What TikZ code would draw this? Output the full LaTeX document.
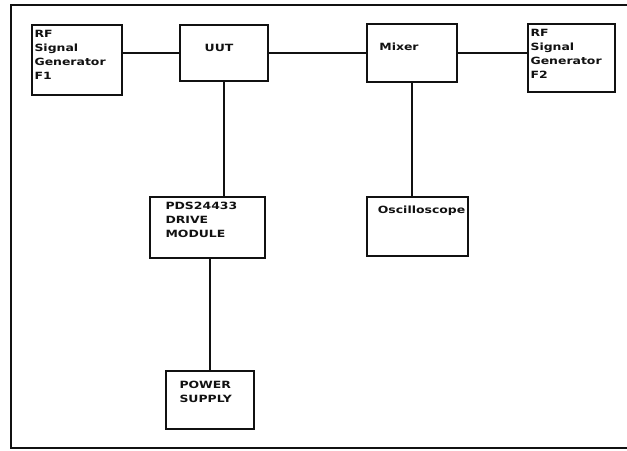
\documentclass[tikz,border=0pt]{standalone}
\usepackage{fontspec}
\usepackage{tikz}
\usetikzlibrary{positioning}
\newfontfamily\scanfont[FakeStretch=1.25]{DejaVu Sans Bold}
\definecolor{inkBlack}{HTML}{111111}

\begin{document}
\begin{tikzpicture}[x=0.03cm, y=-0.03cm,
  unit/.style={draw=inkBlack, line width=1.2pt, inner sep=0pt},
  lbl/.style={font=\scanfont\fontsize{8.5}{11.9}\selectfont, text=inkBlack,
              align=left, inner sep=0pt, anchor=north west},
  wire/.style={draw=inkBlack, line width=0.9pt}
]
\useasboundingbox (0,0) rectangle (627,450);
% outer frame
\draw[inkBlack, line width=1.6pt] (628,5) -| (11,448) -- (628,448);

% boxes
\node[unit, minimum width=90*0.03cm, minimum height=70*0.03cm] (genA) at (77,60) {};
\node[unit, minimum width=88*0.03cm, minimum height=56*0.03cm] (uut) at (224,53) {};
\node[unit, minimum width=90*0.03cm, minimum height=58*0.03cm] (mixer) at (412,53) {};
\node[unit, minimum width=87*0.03cm, minimum height=68*0.03cm] (genB) at (571.5,58) {};
\node[unit, minimum width=115*0.03cm, minimum height=61*0.03cm] (pds) at (207.5,227.5) {};
\node[unit, minimum width=101*0.03cm, minimum height=59*0.03cm] (scope) at (417.5,226.5) {};
\node[unit, minimum width=88*0.03cm, minimum height=58*0.03cm] (power) at (210,400) {};

% labels
\node[lbl, below right=0.18cm and 0.09cm of genA.north west] (genAtxt) {RF\\Signal\\Generator\\F1};
\node[lbl, below right=0.18cm and 0.09cm of genB.north west] (genBtxt) {RF\\Signal\\Generator\\F2};
\node[lbl, anchor=center] (uuttxt) at (219,48) {UUT};
\node[lbl, anchor=center] (mixertxt) at (399,47) {Mixer};
\node[lbl, below right=0.27cm and 0.34cm of scope.north west] (scopetxt) {Oscilloscope};
\node[lbl, below right=0.18cm and 0.48cm of pds.north west] (pdstxt) {PDS24433\\DRIVE\\MODULE};
\node[lbl, below right=0.33cm and 0.42cm of power.north west] (powertxt) {POWER\\SUPPLY};

% connections
\draw[wire] (uut.west) -- (uut.west -| genA.east);
\draw[wire] (uut.east) -- (mixer.west);
\draw[wire] (mixer.east) -- (mixer.east -| genB.west);
\draw[wire] (uut.south) -- (uut.south |- pds.north);
\draw[wire] (mixer.south) -- (mixer.south |- scope.north);
\draw[wire] (power.north |- pds.south) -- (power.north);
\end{tikzpicture}
\end{document}
